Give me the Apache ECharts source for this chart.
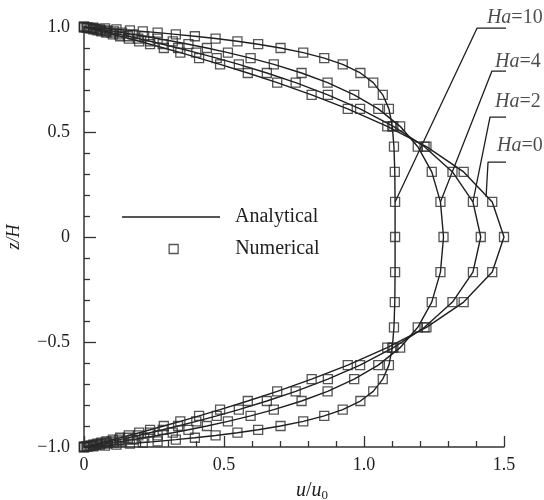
<!DOCTYPE html>
<html>
<head>
<meta charset="utf-8">
<script src="https://cdn.jsdelivr.net/npm/echarts@6/dist/echarts.min.js"></script>
<style>html,body{margin:0;padding:0;background:#fff}#c{width:544px;height:500px}</style>
</head>
<body>
<div id="c"></div>
<script>
// z/H positions of the grid points
const zGrid = [-1.0, -0.997, -0.993, -0.989, -0.984, -0.979, -0.973, -0.965, -0.956, -0.945, -0.932, -0.918, -0.9, -0.878, -0.852, -0.822, -0.781, -0.735, -0.677, -0.61, -0.527, -0.43, -0.31, -0.167, 0, 0.167, 0.31, 0.43, 0.527, 0.61, 0.677, 0.735, 0.781, 0.822, 0.852, 0.878, 0.9, 0.918, 0.932, 0.945, 0.956, 0.965, 0.973, 0.979, 0.984, 0.989, 0.993, 0.997, 1.0];
// u/u0 for each Hartmann number
const uHa0 = [0, 0.009, 0.021, 0.033, 0.048, 0.062, 0.080, 0.103, 0.129, 0.160, 0.197, 0.236, 0.285, 0.344, 0.411, 0.486, 0.585, 0.690, 0.813, 0.942, 1.083, 1.223, 1.356, 1.458, 1.5, 1.458, 1.356, 1.223, 1.083, 0.942, 0.813, 0.690, 0.585, 0.486, 0.411, 0.344, 0.285, 0.236, 0.197, 0.160, 0.129, 0.103, 0.080, 0.062, 0.048, 0.033, 0.021, 0.009, 0];
const uHa2 = [0, 0.011, 0.026, 0.041, 0.059, 0.077, 0.098, 0.126, 0.157, 0.194, 0.236, 0.281, 0.336, 0.401, 0.474, 0.553, 0.653, 0.756, 0.871, 0.986, 1.105, 1.216, 1.316, 1.389, 1.417, 1.389, 1.316, 1.216, 1.105, 0.986, 0.871, 0.756, 0.653, 0.553, 0.474, 0.401, 0.336, 0.281, 0.236, 0.194, 0.157, 0.126, 0.098, 0.077, 0.059, 0.041, 0.026, 0.011, 0];
const uHa4 = [0, 0.016, 0.037, 0.057, 0.082, 0.107, 0.136, 0.174, 0.215, 0.263, 0.317, 0.373, 0.439, 0.514, 0.595, 0.678, 0.777, 0.870, 0.965, 1.051, 1.129, 1.192, 1.242, 1.273, 1.284, 1.273, 1.242, 1.192, 1.129, 1.051, 0.965, 0.870, 0.777, 0.678, 0.595, 0.514, 0.439, 0.373, 0.317, 0.263, 0.215, 0.174, 0.136, 0.107, 0.082, 0.057, 0.037, 0.016, 0];
const uHa10 = [0, 0.033, 0.075, 0.116, 0.164, 0.210, 0.263, 0.328, 0.396, 0.470, 0.548, 0.622, 0.702, 0.783, 0.858, 0.924, 0.987, 1.033, 1.067, 1.089, 1.101, 1.107, 1.110, 1.111, 1.111, 1.111, 1.110, 1.107, 1.101, 1.089, 1.067, 1.033, 0.987, 0.924, 0.858, 0.783, 0.702, 0.622, 0.548, 0.470, 0.396, 0.328, 0.263, 0.210, 0.164, 0.116, 0.075, 0.033, 0];
const haValues = ['10', '4', '2', '0'];
const profiles = [uHa10, uHa4, uHa2, uHa0];
// annotation anchors (data coordinates)
const labelAnchors = [[1.439, 1.043], [1.468, 0.833], [1.468, 0.643], [1.475, 0.433]];
const leaderLines = [
  [[1.111, 0.167], [1.404, 0.995], [1.643, 0.995]],
  [[1.273, 0.167], [1.457, 0.790], [1.643, 0.790]],
  [[1.389, 0.167], [1.450, 0.571], [1.643, 0.571]],
  [[1.436, 0.190], [1.443, 0.357], [1.643, 0.357]]
];

const FONT = 'Liberation Serif';
const INK = '#1e1e1e';
const series = [];
profiles.forEach(function (u) {
  const pts = u.map(function (v, i) { return [v, zGrid[i]]; });
  series.push({
    name: 'Analytical', type: 'line', data: pts, symbol: 'none', silent: true,
    lineStyle: { color: INK, width: 1.4 }, itemStyle: { color: INK }, z: 2
  });
  series.push({
    name: 'Numerical', type: 'scatter', data: pts, symbol: 'rect', symbolSize: 9,
    itemStyle: { color: 'rgba(0,0,0,0)', borderColor: '#2a2a2a', borderWidth: 1.3 }, z: 3
  });
});
leaderLines.forEach(function (p) {
  series.push({
    type: 'line', data: p, symbol: 'none', clip: false, silent: true,
    lineStyle: { color: INK, width: 1.3 }, z: 2
  });
});
series.push({
  type: 'scatter', clip: false, symbolSize: 0, silent: true,
  data: labelAnchors,
  label: {
    show: true, position: 'right', distance: 0,
    formatter: function (p) { return '{i|Ha}{n|=' + haValues[p.dataIndex] + '}'; },
    rich: {
      i: { fontFamily: FONT, fontStyle: 'italic', fontSize: 20, color: INK },
      n: { fontFamily: FONT, fontSize: 20, color: INK }
    }
  }
});

const fmtY = function (v) {
  if (Math.abs(v) < 1e-9) return '0';
  return (v < 0 ? '\u2212' : '') + Math.abs(v).toFixed(1);
};
const fmtX = function (v) {
  if (Math.abs(v) < 1e-9) return '0';
  return v.toFixed(1);
};

const chart = echarts.init(document.getElementById('c'));
chart.setOption({
  animation: false,
  backgroundColor: '#fff',
  grid: { left: 84, top: 27, width: 420, height: 420, containLabel: false, outerBoundsMode: 'none' },
  legend: [
    {
      data: [{ name: 'Analytical', icon: 'rect', itemStyle: { color: INK, borderWidth: 0 } }],
      left: 122, top: 207, padding: 0, itemWidth: 98, itemHeight: 1.6,
      selectedMode: false,
      formatter: '{a|{name}}',
      textStyle: { rich: { a: { fontFamily: FONT, fontSize: 20, color: INK, padding: [0, 0, 0, 10], lineHeight: 22 } } }
    },
    {
      data: [{ name: 'Numerical', icon: 'rect', itemStyle: { color: 'rgba(0,0,0,0)', borderColor: '#2a2a2a', borderWidth: 1.3 } }],
      left: 168.5, top: 239, padding: 0, itemWidth: 9, itemHeight: 9,
      selectedMode: false,
      formatter: '{a|{name}}',
      textStyle: { rich: { a: { fontFamily: FONT, fontSize: 20, color: INK, padding: [0, 0, 0, 52], lineHeight: 22 } } }
    }
  ],
  xAxis: {
    type: 'value', min: 0, max: 1.5, interval: 0.5,
    name: '{i|u}{n|/}{i|u}{s|0}', nameLocation: 'middle', nameGap: 33,
    nameTextStyle: {
      padding: [0, 0, 0, 36],
      rich: {
        i: { fontFamily: FONT, fontStyle: 'italic', fontSize: 20, color: INK, lineHeight: 22 },
        n: { fontFamily: FONT, fontSize: 20, color: INK, lineHeight: 22 },
        s: { fontFamily: FONT, fontSize: 13, color: INK, lineHeight: 13, verticalAlign: 'bottom' }
      }
    },
    axisLine: { show: true, onZero: false, lineStyle: { color: '#333', width: 1.5 } },
    axisTick: { show: true, inside: true, length: 11, lineStyle: { color: '#333', width: 1.3 } },
    minorTick: { show: true, splitNumber: 5, length: 6, lineStyle: { color: '#333', width: 1.3 } },
    splitLine: { show: false },
    axisLabel: { formatter: fmtX, fontFamily: FONT, fontSize: 18, color: INK, margin: 9 }
  },
  yAxis: {
    type: 'value', min: -1, max: 1, interval: 0.5,
    name: '{i|z/H}', nameLocation: 'middle', nameGap: 61, nameRotate: 90,
    nameTextStyle: {
      rich: { i: { fontFamily: FONT, fontStyle: 'italic', fontSize: 18, color: INK } }
    },
    axisLine: { show: true, onZero: false, lineStyle: { color: '#333', width: 1.5 } },
    axisTick: { show: true, inside: true, length: 12, lineStyle: { color: '#333', width: 1.3 } },
    minorTick: { show: true, splitNumber: 5, length: 6, lineStyle: { color: '#333', width: 1.3 } },
    splitLine: { show: false },
    axisLabel: { formatter: fmtY, fontFamily: FONT, fontSize: 18, color: INK, margin: 14 }
  },
  series: series
});
</script>
</body>
</html>
